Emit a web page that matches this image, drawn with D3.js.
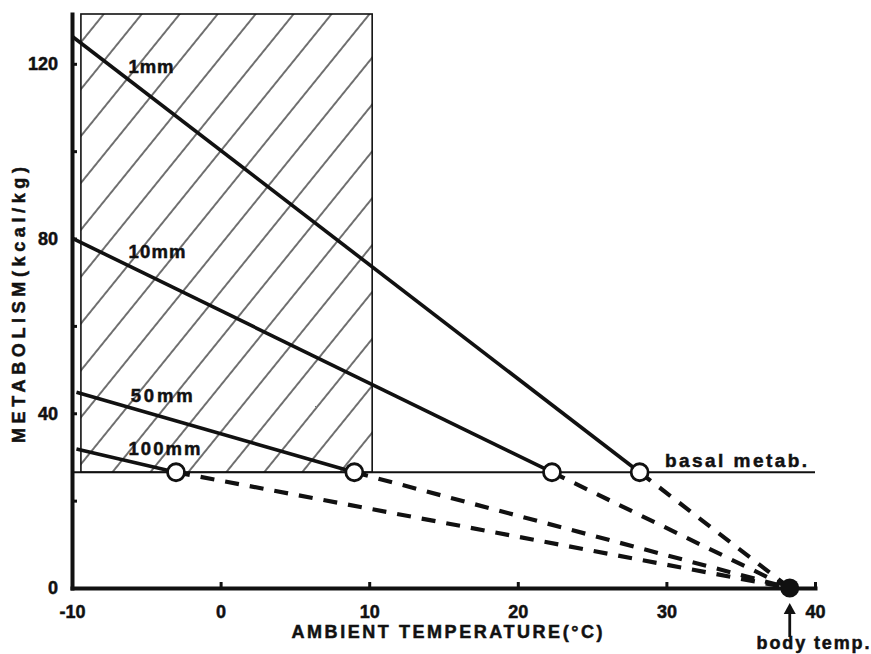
<!DOCTYPE html>
<html>
<head>
<meta charset="utf-8">
<script src="https://cdn.jsdelivr.net/npm/d3@7/dist/d3.min.js"></script>
<style>
body { margin: 0; background: #fff; }
text { font-family: "Liberation Sans", Arial, sans-serif; font-weight: bold; fill: #111; stroke: #111; stroke-width: 0.5px; }
</style>
</head>
<body>
<div id="chart"></div>
<script>
var width = 871,
    height = 654;

// insulation thickness of each line
var thickness = ["1mm", "10mm", "50mm", "100mm"];
// where each line starts (left edge)
var startTemp = [-10, -10, -9.7, -9.7];
var startMetab = [126.3, 80.1, 44.8, 31.8];
// ambient temperature where each line meets basal metabolism
var meetTemp = [28.2, 22.3, 9.0, -3.0];
// label anchors, in data units
var labelTemp = [-6.2, -6.2, -6.05, -6.2];
var labelMetab = [118, 75.5, 42.6, 30.4];
var labelLen = [45, 57, 62, 72];

var basal = 26.5;
var bodyTemp = 38.3;
var hatchTemp = [-9.4, 10.2];

var xTicks = [-10, 0, 10, 20, 30, 40];
var yTicks = [0, 20, 40, 60, 80, 100, 120];
var yLabelled = [0, 40, 80, 120];

var x = d3.scaleLinear().domain([-10, 40]).range([72, 815]);
var y = d3.scaleLinear().domain([0, 131.4]).range([588, 14]);

var svg = d3.select('#chart').append('svg')
    .attr('width', width)
    .attr('height', height)
    .style('background', '#fff');

// hatch pattern for the shaded box
var pat = svg.append('defs').append('pattern')
    .attr('id', 'hatch')
    .attr('patternUnits', 'userSpaceOnUse')
    .attr('width', 29.5)
    .attr('height', 29.5)
    .attr('patternTransform', 'rotate(39)');
pat.append('line')
    .attr('x1', 1).attr('x2', 1)
    .attr('y1', 0).attr('y2', 29.5)
    .style('stroke', '#111')
    .style('stroke-width', 1.2);

svg.append('rect')
    .attr('x', x(hatchTemp[0]))
    .attr('y', y.range()[1])
    .attr('width', x(hatchTemp[1]) - x(hatchTemp[0]))
    .attr('height', y(basal) - y.range()[1])
    .style('fill', 'url(#hatch)')
    .style('stroke', '#111')
    .style('stroke-width', 1.6);

// basal metabolism line
svg.append('line')
    .attr('x1', x(-10)).attr('x2', x(40))
    .attr('y1', y(basal)).attr('y2', y(basal))
    .style('stroke', '#111')
    .style('stroke-width', 2.2);

var line = d3.line()
    .x(function (d) { return x(d[0]); })
    .y(function (d) { return y(d[1]); });

// solid lines down to basal metabolism
svg.selectAll('path.solid').data(thickness)
  .enter().append('path')
    .attr('class', 'solid')
    .attr('d', function (d, i) {
        return line([[startTemp[i], startMetab[i]], [meetTemp[i], basal]]);
    })
    .style('fill', 'none')
    .style('stroke', '#111')
    .style('stroke-width', 3.6);

// dashed lines to body temperature
svg.selectAll('path.dash').data(thickness)
  .enter().append('path')
    .attr('class', 'dash')
    .attr('d', function (d, i) {
        return line([[meetTemp[i], basal], [bodyTemp, 0]]);
    })
    .style('fill', 'none')
    .style('stroke', '#111')
    .style('stroke-width', 4.2)
    .style('stroke-dasharray', '14,11');

// axes
var yAxis = d3.axisLeft(y)
    .tickValues(yTicks)
    .tickSizeInner(-5)
    .tickSizeOuter(0)
    .tickPadding(14)
    .tickFormat(function (d) { return yLabelled.indexOf(d) >= 0 ? String(d) : ''; });

var xAxis = d3.axisBottom(x)
    .tickValues(xTicks)
    .tickSizeInner(-6)
    .tickSizeOuter(0)
    .tickPadding(17)
    .tickFormat(function (d) { return String(d); });

var gy = svg.append('g').attr('transform', 'translate(' + x(-10) + ',0)').call(yAxis);
var gx = svg.append('g').attr('transform', 'translate(0,' + y(0) + ')').call(xAxis);

[gx, gy].forEach(function (g) {
    g.attr('font-family', null).attr('font-size', null);
    g.select('.domain').style('stroke', '#111').style('stroke-width', 4).style('stroke-linecap', 'square');
    g.selectAll('.tick line').style('stroke', '#111').style('stroke-width', 3);
    g.selectAll('.tick text').style('font-size', '18px').style('fill', '#111');
});

// open circles where lines meet basal metabolism
svg.selectAll('circle.meet').data(meetTemp)
  .enter().append('circle')
    .attr('class', 'meet')
    .attr('cx', function (d) { return x(d); })
    .attr('cy', y(basal))
    .attr('r', 8.5)
    .style('fill', '#fff')
    .style('stroke', '#111')
    .style('stroke-width', 2.8);

// body temperature dot
svg.append('circle')
    .attr('cx', x(bodyTemp))
    .attr('cy', y(0))
    .attr('r', 9.5)
    .style('fill', '#111');

// line labels
svg.selectAll('text.lab').data(thickness)
  .enter().append('text')
    .attr('class', 'lab')
    .attr('x', function (d, i) { return x(labelTemp[i]); })
    .attr('y', function (d, i) { return y(labelMetab[i]); })
    .attr('textLength', function (d, i) { return labelLen[i]; })
    .attr('lengthAdjust', 'spacing')
    .style('font-size', '18.5px')
    .text(function (d) { return d; });

svg.append('text')
    .attr('x', 665).attr('y', 467)
    .attr('textLength', 142)
    .attr('lengthAdjust', 'spacing')
    .style('font-size', '19px')
    .text('basal metab.');

// arrow to body temperature
svg.append('line')
    .attr('x1', x(bodyTemp)).attr('x2', x(bodyTemp))
    .attr('y1', y(0) + 49).attr('y2', y(0) + 22)
    .style('stroke', '#111')
    .style('stroke-width', 2.8);
svg.append('path')
    .attr('d', 'M' + x(bodyTemp) + ',' + (y(0) + 15) + 'l-6,11h12z')
    .style('fill', '#111');

svg.append('text')
    .attr('x', 813).attr('y', 649)
    .attr('text-anchor', 'middle')
    .attr('textLength', 113)
    .attr('lengthAdjust', 'spacing')
    .style('font-size', '18px')
    .text('body temp.');

// axis titles
svg.append('text')
    .attr('x', 447).attr('y', 638)
    .attr('text-anchor', 'middle')
    .attr('textLength', 311)
    .attr('lengthAdjust', 'spacing')
    .style('font-size', '18px')
    .text('AMBIENT TEMPERATURE(°C)');

svg.append('text')
    .attr('transform', 'translate(25,305) rotate(-90)')
    .attr('text-anchor', 'middle')
    .attr('textLength', 276)
    .attr('lengthAdjust', 'spacing')
    .style('font-size', '18px')
    .text('METABOLISM(kcal/kg)');
</script>
</body>
</html>
